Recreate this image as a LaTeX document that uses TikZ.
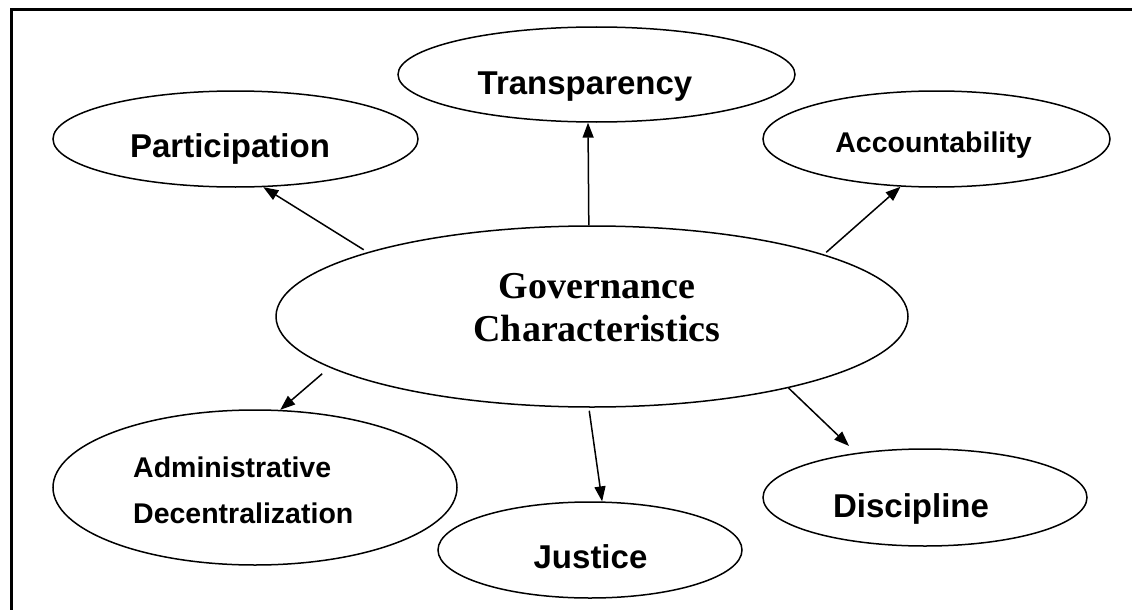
\documentclass[tikz,border=0pt]{standalone}
\usepackage{fontspec}
\setmainfont{Liberation Serif}
\newfontfamily\arialfont{Liberation Sans}
\usetikzlibrary{shapes.geometric,arrows.meta}
\begin{document}
\begin{tikzpicture}[x=1pt,y=-1pt,
  oval/.style={draw,ellipse,line width=1.5pt,inner sep=0pt},
  lbl/.style={inner sep=0pt,font=\arialfont\bfseries\fontsize{33}{40}\selectfont},
  lblsmall/.style={inner sep=0pt,font=\arialfont\bfseries\fontsize{28.5}{46}\selectfont},
  link/.style={line width=1.5pt,-{Triangle[length=15pt,width=11pt]}}]
\useasboundingbox (0,0) rectangle (1132,610);
\clip (0,0) rectangle (1132,610);
\draw[line width=3.5pt] (11.5,650) -- (11.5,9.5) -- (1170,9.5);

% ellipses
\node[oval,minimum width=365pt,minimum height=96pt] (part) at (235.5,139) {};
\node[oval,minimum width=397pt,minimum height=95pt] (trans) at (596.5,74.5) {};
\node[oval,minimum width=347pt,minimum height=96pt] (acc) at (936.5,139) {};
\node[oval,minimum width=632pt,minimum height=181pt] (cen) at (592,316.5) {};
\node[oval,minimum width=404pt,minimum height=155pt] (adm) at (255,487.5) {};
\node[oval,minimum width=304pt,minimum height=96pt] (jus) at (590,550) {};
\node[oval,minimum width=324pt,minimum height=97pt] (dis) at (925,497.5) {};

% labels
\node[lbl,anchor=base] (partT) at (230,157) {Participation};
\node[lbl,anchor=base] (transT) at (585,94) {Transparency};
\node[lblsmall,anchor=base] (accT) at (933.5,152) {Accountability};
\node[lblsmall,anchor=west,align=left] (admT) at (133,490.6) {Administrative\\Decentralization};
\node[lbl,anchor=base] (jusT) at (590.5,568) {Justice};
\node[lbl,anchor=base] (disT) at (911,517) {Discipline};
\node[inner sep=0pt,align=center,font=\bfseries\fontsize{38}{43}\selectfont] (cenT) at (597,307.5) {Governance\\Characteristics};

% connectors
\draw[link,shorten <=4.5pt] (cen.164.93) -- (part.-60.7);
\draw[link] (cen.92.53) -- (trans.-100.1);
\draw[link,shorten <=3pt] (cen.15.37) -- (acc.-127.6);
\draw[link,shorten <=9.5pt] (cen.191.24) -- (adm.72.1);
\draw[link,shorten <=3pt] (cen.-92.85) -- (jus.76.5);
\draw[link,shorten >=10pt] (cen.-20.48) -- (dis.147.4);
\end{tikzpicture}
\end{document}
